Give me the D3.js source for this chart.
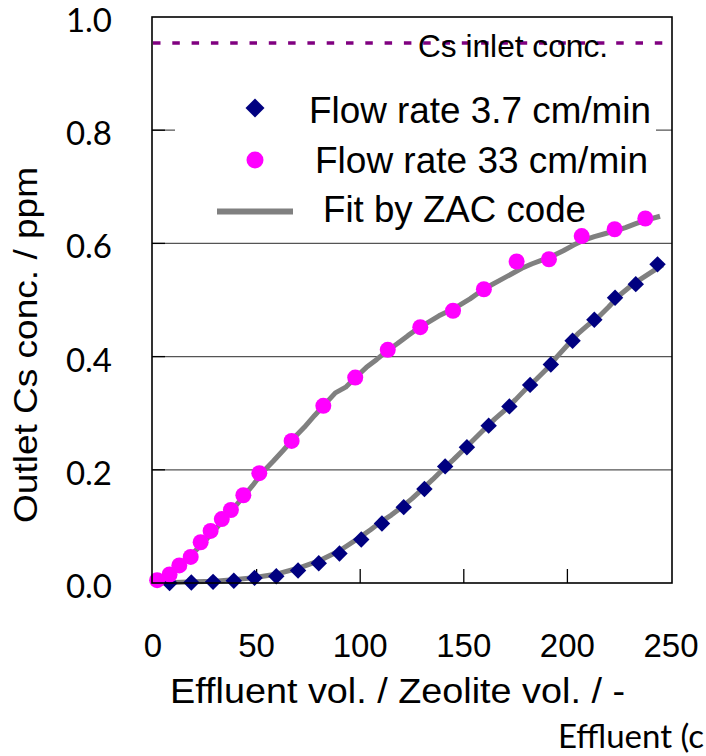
<!DOCTYPE html>
<meta charset="utf-8">
<head>
  <title>breakthrough</title>
</head>
<style>
body { margin: 0; background: #fff; }
svg { display: block; }
.lab { font-family: "Liberation Sans", Arial, sans-serif; fill: #000; }
.ytick { font-family: Lato, "Open Sans", sans-serif; fill: #000; }
</style>
<body>
<svg width="706" height="756"></svg>

<script src="https://cdnjs.cloudflare.com/ajax/libs/d3/7.8.5/d3.min.js"></script>
<script>

// measured points, flow rate 3.7 cm/min
var slowX = [8, 18.5, 29, 39, 49, 59.5, 70, 80, 90, 100.5, 110.5, 121, 131, 141, 151.5, 162, 172, 182, 192, 202.5, 213, 223, 233, 243.5];
var slowY = [0.0, 0.001, 0.002, 0.004, 0.009, 0.012, 0.022, 0.035, 0.052, 0.077, 0.105, 0.134, 0.166, 0.206, 0.240, 0.278, 0.312, 0.350, 0.386, 0.428, 0.465, 0.504, 0.528, 0.563];

// measured points, flow rate 33 cm/min
var fastX = [2, 8, 12.7, 18.2, 23, 27.8, 33.2, 37.6, 43.6, 51.3, 66.9, 82.2, 97.6, 113.3, 129, 144.8, 159.7, 175.5, 191.1, 206.9, 222.8, 237.6];
var fastY = [0.005, 0.015, 0.031, 0.046, 0.072, 0.092, 0.113, 0.129, 0.155, 0.194, 0.251, 0.313, 0.363, 0.412, 0.452, 0.481, 0.519, 0.568, 0.572, 0.613, 0.625, 0.644];

// ZAC code fits
var fitSlowX = [3, 10, 20, 30, 40, 50, 60, 70, 80, 90, 100, 105, 110, 115, 120, 125, 130, 135, 140, 145, 150, 155, 160, 165, 170, 175, 180, 185, 190, 195, 200, 205, 210, 215, 220, 225, 230, 235, 240, 246];
var fitSlowY = [0.0, 0.001, 0.002, 0.003, 0.006, 0.010, 0.016, 0.026, 0.039, 0.057, 0.081, 0.094, 0.108, 0.120, 0.134, 0.149, 0.166, 0.183, 0.201, 0.218, 0.236, 0.254, 0.272, 0.290, 0.306, 0.324, 0.343, 0.360, 0.378, 0.400, 0.420, 0.440, 0.456, 0.470, 0.488, 0.508, 0.523, 0.536, 0.548, 0.562];
var fitFastX = [1, 3, 8, 13, 18, 23, 28, 33, 38, 43, 48, 53, 58, 63, 68, 73, 78, 83, 88, 93, 98, 103, 108, 113, 118, 123, 128, 133, 138, 143, 148, 153, 158, 163, 168, 173, 178, 183, 188, 193, 198, 203, 208, 213, 218, 223, 228, 233, 238, 244.7];
var fitFastY = [0.0, 0.006, 0.018, 0.032, 0.048, 0.066, 0.086, 0.107, 0.128, 0.150, 0.172, 0.196, 0.215, 0.235, 0.256, 0.275, 0.296, 0.316, 0.336, 0.346, 0.364, 0.381, 0.395, 0.410, 0.423, 0.437, 0.450, 0.461, 0.472, 0.481, 0.491, 0.502, 0.515, 0.526, 0.536, 0.546, 0.556, 0.564, 0.571, 0.578, 0.587, 0.597, 0.606, 0.612, 0.617, 0.622, 0.628, 0.635, 0.641, 0.648];

var inletConc = 0.954;
var xTicks = [0, 50, 100, 150, 200, 250];
var yTicks = [0.0, 0.2, 0.4, 0.6, 0.8, 1.0];
var legendNames = ["Flow rate 3.7 cm/min", "Flow rate 33 cm/min", "Fit by ZAC code"];

var svg = d3.select("svg");
var x = d3.scaleLinear().domain([0, 250]).range([153, 671]);
var y = d3.scaleLinear().domain([0, 1]).range([583, 17]);

// gridlines (0.8 one gets hidden by the legend box)
svg.selectAll(".grid").data(yTicks.slice(1, 5)).enter().append("line")
  .attr("x1", 152).attr("x2", 672)
  .attr("y1", function(d){ return y(d); }).attr("y2", function(d){ return y(d); })
  .style("stroke", "#555").style("stroke-width", 1.3);

// inward tick marks
svg.selectAll(".yt").data(yTicks.slice(1, 5)).enter().append("line")
  .attr("x1", 152).attr("x2", 165)
  .attr("y1", function(d){ return y(d); }).attr("y2", function(d){ return y(d); })
  .style("stroke", "#000").style("stroke-width", 1.3);
svg.selectAll(".xt").data(xTicks.slice(1, 5)).enter().append("line")
  .attr("x1", function(d){ return x(d); }).attr("x2", function(d){ return x(d); })
  .attr("y1", 583).attr("y2", 569)
  .style("stroke", "#000").style("stroke-width", 1.3);

// legend box
svg.append("rect").attr("x", 175).attr("y", 66).attr("width", 481).attr("height", 170)
  .style("fill", "#fff");

// inlet concentration
svg.append("line")
  .attr("x1", 153).attr("x2", 671)
  .attr("y1", y(inletConc)).attr("y2", y(inletConc))
  .style("stroke", "#800080").style("stroke-width", 3.5)
  .style("stroke-dasharray", "7.5,11.8");
svg.append("text").attr("class", "lab")
  .attr("x", 418).attr("y", 57)
  .style("font-size", "32px")
  .attr("textLength", 190).attr("lengthAdjust", "spacingAndGlyphs")
  .text("Cs inlet conc.");

// fit lines
var line = d3.line().x(function(d){ return x(d[0]); }).y(function(d){ return y(d[1]); });
[[fitSlowX, fitSlowY], [fitFastX, fitFastY]].forEach(function(s){
  svg.append("path")
    .datum(d3.zip(s[0], s[1]))
    .attr("d", line)
    .style("fill", "none").style("stroke", "#808080")
    .style("stroke-width", 5).style("stroke-linejoin", "round");
});

var diamond = d3.symbol().type(d3.symbolSquare).size(135);

svg.selectAll(".slow").data(d3.zip(slowX, slowY)).enter().append("path")
  .attr("d", diamond)
  .attr("transform", function(d){ return "translate(" + x(d[0]) + "," + y(d[1]) + ") rotate(45)"; })
  .style("fill", "#000080");

svg.selectAll(".fast").data(d3.zip(fastX, fastY)).enter().append("circle")
  .attr("cx", function(d){ return x(d[0]); })
  .attr("cy", function(d){ return y(d[1]); })
  .attr("r", 8)
  .style("fill", "#ff00ff");

// legend
svg.append("path").attr("d", d3.symbol().type(d3.symbolSquare).size(180))
  .attr("transform", "translate(255,108) rotate(45)").style("fill", "#000080");
svg.append("circle").attr("cx", 255).attr("cy", 160).attr("r", 8.5).style("fill", "#ff00ff");
svg.append("line").attr("x1", 217).attr("x2", 293).attr("y1", 211.5).attr("y2", 211.5)
  .style("stroke", "#808080").style("stroke-width", 6);

var legX = [309, 315, 323], legY = [123, 173, 222], legW = [342, 333, 263];
legendNames.forEach(function(n, i){
  svg.append("text").attr("class", "lab")
    .attr("x", legX[i]).attr("y", legY[i])
    .style("font-size", "36px")
    .attr("textLength", legW[i]).attr("lengthAdjust", "spacingAndGlyphs")
    .text(n);
});

// frame
svg.append("rect").attr("x", 152).attr("y", 17).attr("width", 520).attr("height", 566)
  .style("fill", "none").style("stroke", "#000").style("stroke-width", 1.6);

// tick labels
svg.selectAll(".ylab").data(yTicks).enter().append("text").attr("class", "ytick")
  .attr("x", 112).attr("y", function(d){ return y(d) + 15; })
  .attr("text-anchor", "end").style("font-size", "33px")
  .text(d3.format(".1f"));
svg.selectAll(".xlab").data(xTicks).enter().append("text").attr("class", "lab")
  .attr("x", function(d){ return x(d); }).attr("y", 657)
  .attr("text-anchor", "middle").style("font-size", "33px")
  .text(function(d){ return d; });

// axis titles
svg.append("text").attr("class", "lab")
  .attr("transform", "translate(37,345) rotate(-90)")
  .attr("text-anchor", "middle").style("font-size", "34px")
  .attr("textLength", 356).attr("lengthAdjust", "spacingAndGlyphs")
  .text("Outlet Cs conc. / ppm");
svg.append("text").attr("class", "lab")
  .attr("x", 170).attr("y", 703).style("font-size", "35px")
  .attr("textLength", 455).attr("lengthAdjust", "spacingAndGlyphs")
  .text("Effluent vol. / Zeolite vol. /  -");
svg.append("text").attr("class", "ytick")
  .attr("x", 558).attr("y", 748).style("font-size", "33px")
  .text("Effluent (c");

</script>
</body>
